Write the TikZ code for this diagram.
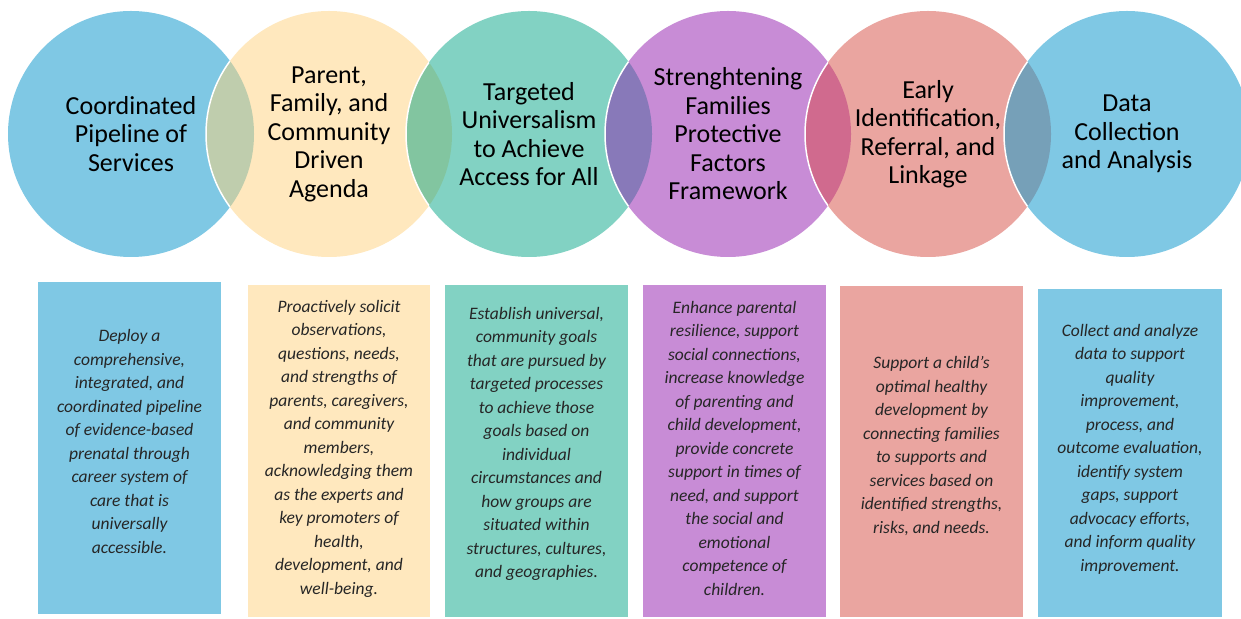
\documentclass[tikz,border=0pt]{standalone}
\usepackage{fontspec}
\setmainfont{Carlito}
\definecolor{skyC}{HTML}{7FC8E4}
\definecolor{sandC}{HTML}{FFE8BE}
\definecolor{mintC}{HTML}{82D2C3}
\definecolor{lilacC}{HTML}{C88CD6}
\definecolor{roseC}{HTML}{EAA5A0}
\definecolor{mixAB}{HTML}{BFCDAD}
\definecolor{mixBC}{HTML}{82C5A0}
\definecolor{mixCD}{HTML}{8879B9}
\definecolor{mixDE}{HTML}{D06A8E}
\definecolor{mixEF}{HTML}{76A0B8}
\definecolor{inkC}{HTML}{262626}
\tikzset{
    bubble/.style={circle, minimum size=246pt, inner sep=0pt, fill=#1, align=center,
        font=\fontsize{26}{28.5}\selectfont},
    note/.style={align=center, inner sep=0pt, text=inkC,
        font=\fontsize{17.5}{23.5}\selectfont\itshape}
}

\begin{document}
\begin{tikzpicture}[x=1pt, y=1pt]
    \useasboundingbox (0,0) rectangle (1241,618);
    \clip (0,0) rectangle (1241,618);
    \node[bubble=skyC] (A) at (131,484) {Coordinated\\Pipeline of\\Services};
    \node[bubble=sandC] (B) at (329,484) {Parent,\\Family, and\\Community\\Driven\\Agenda};
    \node[bubble=mintC] (C) at (529,484) {Targeted\\Universalism\\to Achieve\\Access for All};
    \node[bubble=lilacC] (D) at (728,484) {Strenghtening\\Families\\Protective\\Factors\\Framework};
    \node[bubble=roseC] (E) at (928,484) {Early\\Identification,\\Referral, and\\Linkage};
    \node[bubble=skyC] (F) at (1127,484) {Data\\Collection\\and Analysis};
    % overlaps between neighbours, with the white rim of the right one
    \foreach \p/\q/\mix in {A/B/mixAB, B/C/mixBC, C/D/mixCD, D/E/mixDE, E/F/mixEF}{
        \begin{scope}
            \clip (\p.center) circle (123pt);
            \fill[\mix] (\q.center) circle (123pt);
            \draw[white, line width=1.5pt] (\q.center) circle (123pt);
        \end{scope}
    }
    % boxes
    \fill[skyC] (38,4) rectangle (221,336);
    \fill[sandC] (248,1) rectangle (430,333);
    \fill[mintC] (445,1) rectangle (628,333);
    \fill[lilacC] (643,1) rectangle (826,333);
    \fill[roseC] (840,1) rectangle (1023,332);
    \fill[skyC] (1038,1) rectangle (1222,329);
    \node[note] (a) at (129.5,176.5) {Deploy a\\comprehensive,\\integrated, and\\coordinated pipeline\\of evidence-based\\prenatal through\\career system of\\care that is\\universally\\accessible.};
    \node[note] (b) at (339,169.5) {Proactively solicit\\observations,\\questions, needs,\\and strengths of\\parents, caregivers,\\and community\\members,\\acknowledging them\\as the experts and\\key promoters of\\health,\\development, and\\well-being.};
    \node[note] (c) at (536.5,174) {Establish universal,\\community goals\\that are pursued by\\targeted processes\\to achieve those\\goals based on\\individual\\circumstances and\\how groups are\\situated within\\structures, cultures,\\and geographies.};
    \node[note] (d) at (734.5,170) {Enhance parental\\resilience, support\\social connections,\\increase knowledge\\of parenting and\\child development,\\provide concrete\\support in times of\\need, and support\\the social and\\emotional\\competence of\\children.};
    \node[note] (e) at (931.5,172) {Support a child’s\\optimal healthy\\development by\\connecting families\\to supports and\\services based on\\identified strengths,\\risks, and needs.};
    \node[note] (f) at (1130,169) {Collect and analyze\\data to support\\quality\\improvement,\\process, and\\outcome evaluation,\\identify system\\gaps, support\\advocacy efforts,\\and inform quality\\improvement.};
\end{tikzpicture}
\end{document}
